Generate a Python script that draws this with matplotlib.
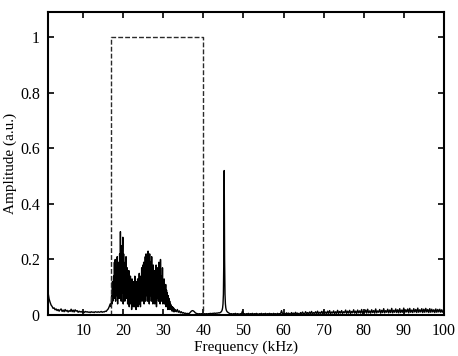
import numpy as np
import matplotlib
matplotlib.use("Agg")
import matplotlib.pyplot as plt

plt.rcParams['font.family'] = ['Liberation Serif', 'DejaVu Serif']

# ---- data ----
# low-frequency part, 1.25 .. 16.75 kHz, 0.25 kHz step
low_start, low_step = 1.25, 0.25
low_vals = [0.080, 0.058, 0.046, 0.036, 0.031, 0.024, 0.026, 0.019, 0.022, 0.016,
            0.020, 0.014, 0.019, 0.022, 0.013, 0.018, 0.012, 0.020, 0.014, 0.017,
            0.011, 0.016, 0.013, 0.021, 0.012, 0.018, 0.011, 0.019, 0.014, 0.016,
            0.010, 0.014, 0.011, 0.013, 0.010, 0.012, 0.009, 0.013, 0.011, 0.012,
            0.010, 0.011, 0.009, 0.012, 0.010, 0.011, 0.009, 0.012, 0.011, 0.010,
            0.012, 0.010, 0.011, 0.013, 0.010, 0.012, 0.011, 0.014, 0.013, 0.018,
            0.022, 0.030, 0.040]

# signal band, 17.0 .. 32.9 kHz, 0.1 kHz step
band_start, band_step = 17.0, 0.1
band_vals = [
    0.03, 0.07, 0.04, 0.12, 0.05, 0.09, 0.14, 0.06, 0.19, 0.08,
    0.20, 0.05, 0.13, 0.17, 0.07, 0.21, 0.04, 0.15, 0.10, 0.19,
    0.06, 0.22, 0.09, 0.30, 0.12, 0.05, 0.25, 0.08, 0.18, 0.28,
    0.04, 0.22, 0.10, 0.16, 0.05, 0.19, 0.07, 0.21, 0.12, 0.06,
    0.17, 0.04, 0.14, 0.09, 0.16, 0.03, 0.12, 0.07, 0.14, 0.04,
    0.11, 0.02, 0.13, 0.06, 0.10, 0.03, 0.12, 0.08, 0.03, 0.14,
    0.06, 0.11, 0.02, 0.12, 0.05, 0.09, 0.13, 0.03, 0.11, 0.07,
    0.15, 0.04, 0.12, 0.03, 0.14, 0.08, 0.17, 0.05, 0.13, 0.18,
    0.06, 0.19, 0.04, 0.16, 0.09, 0.21, 0.05, 0.22, 0.12, 0.07,
    0.20, 0.05, 0.23, 0.09, 0.18, 0.04, 0.22, 0.07, 0.15, 0.19,
    0.05, 0.21, 0.08, 0.14, 0.04, 0.18, 0.10, 0.06, 0.16, 0.04,
    0.15, 0.08, 0.18, 0.03, 0.13, 0.06, 0.17, 0.10, 0.05, 0.19,
    0.07, 0.16, 0.04, 0.20, 0.09, 0.05, 0.14, 0.06, 0.17, 0.04,
    0.12, 0.07, 0.13, 0.04, 0.10, 0.06, 0.11, 0.03, 0.09, 0.05,
    0.08, 0.02, 0.07, 0.04, 0.06, 0.02, 0.05, 0.03, 0.04, 0.02,
    0.035, 0.015, 0.03, 0.02, 0.028, 0.012, 0.025, 0.018, 0.012, 0.02]

# gap between band and tone, 33.0 .. 43.75 kHz, 0.25 kHz step
gap_start, gap_step = 33.0, 0.25
gap_vals = [0.018, 0.012, 0.020, 0.010, 0.015, 0.008, 0.012, 0.007, 0.009, 0.006,
            0.007, 0.005, 0.006, 0.005, 0.006, 0.010, 0.014, 0.016, 0.015, 0.012,
            0.008, 0.006, 0.005, 0.004, 0.005, 0.004, 0.005, 0.004, 0.004, 0.005,
            0.004, 0.005, 0.004, 0.005, 0.005, 0.006, 0.005, 0.006, 0.006, 0.007,
            0.006, 0.007, 0.007, 0.008]

# tone at ~45 kHz, 44.0 .. 46.4 kHz, 0.1 kHz step
tone_start, tone_step = 44.0, 0.1
tone_vals = [0.008, 0.008, 0.009, 0.010, 0.011, 0.013, 0.015, 0.019, 0.026, 0.040,
             0.075, 0.200, 0.520, 0.200, 0.075, 0.040, 0.026, 0.019, 0.015, 0.013,
             0.011, 0.010, 0.009, 0.008, 0.007]

# high-frequency floor, 46.5 .. 100 kHz, 0.25 kHz step
high_start, high_step = 46.5, 0.25
high_vals = [
    0.006, 0.004, 0.005, 0.003, 0.005, 0.004, 0.006, 0.003, 0.005, 0.004,
    0.003, 0.005, 0.004, 0.014, 0.004, 0.005, 0.003, 0.005, 0.004, 0.006,
    0.003, 0.005, 0.004, 0.006, 0.003, 0.005, 0.004, 0.006, 0.004, 0.003,
    0.005, 0.004, 0.006, 0.003, 0.005, 0.004, 0.006, 0.003, 0.005, 0.004,
    0.006, 0.004, 0.005, 0.003, 0.006, 0.004, 0.005, 0.003, 0.006, 0.004,
    0.005, 0.004, 0.016, 0.005, 0.004, 0.006, 0.003, 0.008, 0.004, 0.007,
    0.005, 0.003, 0.009, 0.004, 0.007, 0.003, 0.010, 0.004, 0.007, 0.005,
    0.003, 0.009, 0.004, 0.011, 0.005, 0.004, 0.012, 0.005, 0.009, 0.004,
    0.011, 0.005, 0.013, 0.004, 0.009, 0.006, 0.012, 0.004, 0.014, 0.005,
    0.010, 0.006, 0.013, 0.005, 0.015, 0.006, 0.011, 0.005, 0.014, 0.006,
    0.016, 0.005, 0.011, 0.007, 0.015, 0.005, 0.012, 0.006, 0.017, 0.006,
    0.013, 0.007, 0.016, 0.006, 0.012, 0.008, 0.018, 0.006, 0.014, 0.007,
    0.017, 0.006, 0.013, 0.008, 0.019, 0.007, 0.014, 0.006, 0.018, 0.008,
    0.015, 0.007, 0.020, 0.006, 0.014, 0.009, 0.018, 0.007, 0.021, 0.008,
    0.015, 0.007, 0.019, 0.009, 0.016, 0.007, 0.022, 0.008, 0.015, 0.010,
    0.020, 0.007, 0.017, 0.009, 0.023, 0.008, 0.016, 0.010, 0.021, 0.008,
    0.018, 0.009, 0.024, 0.008, 0.017, 0.010, 0.022, 0.009, 0.019, 0.008,
    0.023, 0.009, 0.018, 0.010, 0.025, 0.009, 0.019, 0.011, 0.022, 0.008,
    0.024, 0.010, 0.018, 0.009, 0.023, 0.011, 0.020, 0.009, 0.025, 0.010,
    0.019, 0.011, 0.023, 0.009, 0.021, 0.010, 0.024, 0.011, 0.020, 0.009,
    0.023, 0.010, 0.021, 0.011, 0.019, 0.009, 0.022, 0.010, 0.020, 0.011,
    0.021, 0.010, 0.019, 0.010, 0.016]

# ideal band-pass window (dashed)
window_x = [17.0, 17.0, 40.0, 40.0]
window_y = [0.0, 1.0, 1.0, 0.0]

xticks = [10, 20, 30, 40, 50, 60, 70, 80, 90, 100]
yticks = [0, 0.2, 0.4, 0.6, 0.8, 1.0]
yticklabels = ['0', '0.2', '0.4', '0.6', '0.8', '1']


def seg(start, step, vals):
    return start + step * np.arange(len(vals)), np.asarray(vals)


parts = [seg(low_start, low_step, low_vals),
         seg(band_start, band_step, band_vals),
         seg(gap_start, gap_step, gap_vals),
         seg(tone_start, tone_step, tone_vals),
         seg(high_start, high_step, high_vals)]
freq = np.concatenate([p[0] for p in parts])
amp = np.concatenate([p[1] for p in parts])

fig = plt.figure(figsize=(4.58, 3.56), dpi=100)
ax = fig.add_axes([0.105, 0.115, 0.864, 0.851])

ax.plot(freq, amp, color='black', lw=1.0)
ax.plot(window_x, window_y, color='#2a2a2a', lw=1.0, dashes=(3.5, 1.5))

ax.set_xlim(1.25, 100)
ax.set_ylim(0, 1.09)
ax.set_xticks(xticks)
ax.set_yticks(yticks)
ax.set_yticklabels(yticklabels)
ax.tick_params(direction='in', top=True, right=True, length=4, width=1.2,
               labelsize=11.5, pad=6)
for s in ax.spines.values():
    s.set_linewidth(1.5)

ax.set_xlabel('Frequency (kHz)', fontsize=11, labelpad=1)
ax.set_ylabel('Amplitude (a.u.)', fontsize=11, labelpad=2)

fig.savefig('out.png', dpi=100)
